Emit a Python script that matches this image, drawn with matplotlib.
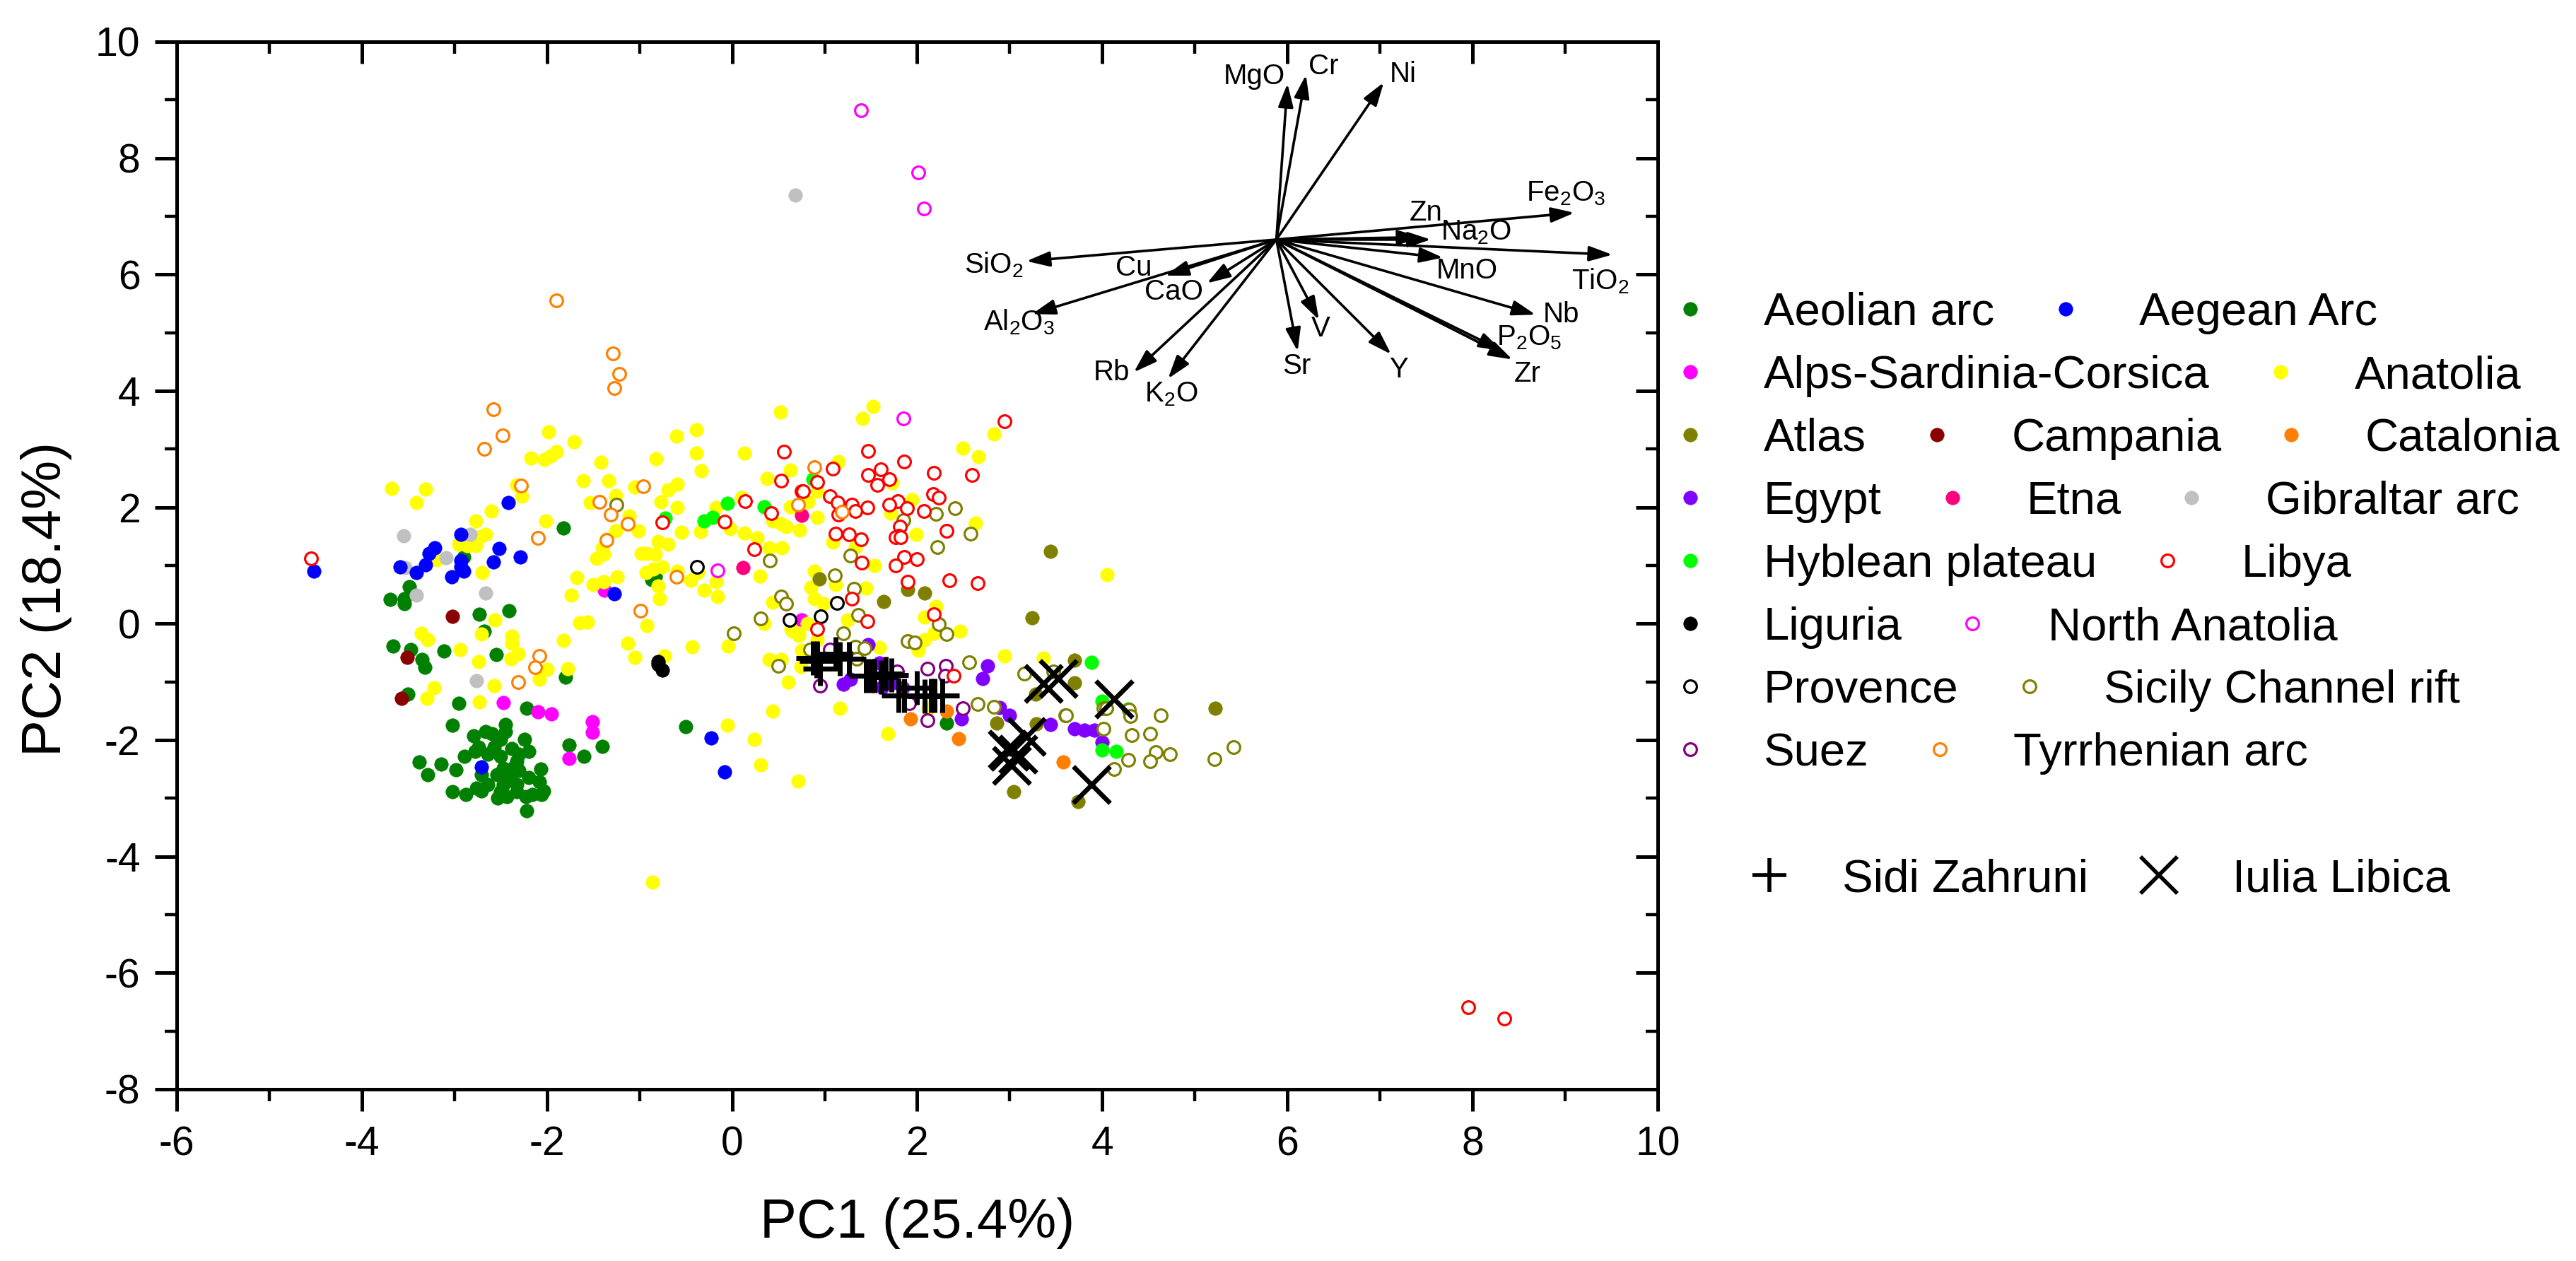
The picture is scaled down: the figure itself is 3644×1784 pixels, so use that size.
import matplotlib
matplotlib.use("Agg")
import matplotlib.pyplot as plt
from matplotlib.lines import Line2D
from matplotlib.ticker import MultipleLocator

plt.rcParams['font.family'] = ['Liberation Sans', 'DejaVu Sans']
plt.rcParams['axes.unicode_minus'] = False
plt.rcParams['mathtext.fontset'] = 'custom'
plt.rcParams['mathtext.rm'] = 'Liberation Sans'
plt.rcParams['mathtext.default'] = 'regular'

aeolian = [(-1.82,1.64),(-2.90,1.14),(-3.49,.64),(-3.69,.42),(-3.54,.43),(-3.54,.34),(-2.73,.16),(-2.41,.22),
 (-2.68,-.13),(-.83,.80),(-.87,.76),(-3.66,-.38),(-3.47,-.45),(-3.11,-.47),(-2.55,-.53),(-3.35,-.62),(-3.32,-.75),
 (-1.80,-.92),(-3.50,-1.21),(-2.95,-1.37),(-2.22,-1.45),(-3.02,-1.74),(-2.45,-1.73),(-2.45,-1.85),(-.50,-1.77),
 (-2.24,-1.99),(-1.76,-2.08),(-1.40,-2.11),(-1.60,-2.28),(-3.38,-2.38),(-3.14,-2.41),(-3.29,-2.60),(-2.98,-2.51),
 (-3.02,-2.89),(-2.88,-2.93),(-2.76,-2.83),(-2.71,-2.87),(-2.22,-3.22),(-2.53,-3.00),(-2.06,-2.93),(-2.04,-2.87),
 (-2.07,-2.50),(-2.08,-2.72),(-2.79,-1.93),(-2.66,-1.85),(-2.59,-1.89),(-2.50,-1.99),(-2.74,-2.12),(-2.57,-2.12),
 (-2.38,-2.14),(-2.30,-2.24),(-2.20,-2.20),(-2.89,-2.28),(-2.78,-2.20),(-2.64,-2.24),(-2.50,-2.28),(-2.33,-2.36),
 (-2.47,-2.48),(-2.37,-2.48),(-2.30,-2.52),(-2.71,-2.60),(-2.54,-2.60),(-2.40,-2.64),(-2.20,-2.64),(-2.64,-2.77),
 (-2.47,-2.77),(-2.33,-2.77),(-2.43,-2.97),(-2.23,-2.97),(-2.16,-2.93),(-2.33,-2.89),(-2.50,-2.89),(2.32,-1.71)]
alps = [(-1.38,.57),(-2.47,-1.36),(-2.10,-1.52),(-1.95,-1.55),(-1.51,-1.69),(-1.51,-1.87),(-1.76,-2.31),(.75,.07)]
anatolia = [(.526,3.64),(-1.98,3.29),(-1.71,3.12),(-2.17,2.85),(-2.03,2.82),(-1.96,2.88),(-1.90,2.95),(-1.42,2.77),
 (-.60,3.22),(-.39,3.33),(-.39,2.93),(-.82,2.83),(.13,2.93),(-.33,2.63),(.63,2.64),(.38,2.49),(-3.68,2.32),(-3.31,2.31),
 (-3.41,2.08),(-1.61,2.46),(-1.33,2.46),(-1.05,2.35),(-.59,2.40),(-.69,2.30),(-2.33,2.38),(-2.27,2.19),(-2.60,1.94),
 (-2.77,1.77),(-1.26,2.20),(-1.53,2.08),(-.77,2.09),(-.59,2.00),(-1.11,1.85),(.10,2.17),(-.17,1.99),(.67,2.01),
 (-2.01,1.77),(-1.26,1.59),(-1.01,1.60),(-.55,1.57),(-.34,1.58),(-.02,1.63),(.13,1.56),(.27,1.47),(.44,1.76),(.53,1.72),
 (.58,1.67),(.73,1.61),(-2.66,1.53),(-2.72,1.50),(-2.95,1.36),(-2.86,1.34),(-2.77,1.34),(-3.19,1.10),(-1.36,1.45),
 (-1.40,1.30),(-1.39,1.20),(-1.46,1.12),(-.80,1.41),(-.69,1.37),(-.98,1.21),(-.92,1.21),(-.83,1.20),(.40,1.30),(.54,1.30),
 (-2.70,.88),(-.37,.88),(-.93,.88),(-.85,.94),(-.75,.98),(-.59,.90),(-.45,.75),(.30,.82),(-.30,.58),(-.17,.72),(-.16,.47),
 (-.80,.65),(-.78,.43),(-1.24,.81),(-1.68,.79),(-1.39,.72),(-1.50,.67),(-1.74,.49),(.44,.37),(.35,.01),(.65,-.13),(.72,-.17),
 (-1.65,.02),(-1.56,.03),(-.92,-.03),(-2.56,.06),(-3.36,-.17),(-3.29,-.27),(-2.38,-.21),(-2.38,-.34),(-2.71,-.18),
 (-1.82,-.29),(-1.13,-.34),(-.43,-.40),(-.04,-.38),(-2.94,-.45),(-2.31,-.52),(-2.39,-.60),(-2.74,-.65),(-1.05,-.58),
 (-.73,-.56),(.40,-.61),(.53,-.62),(-2.00,-.79),(-1.78,-.77),(-2.08,-.96),(-2.57,-1.06),(.61,-1.0),(-3.22,-1.10),
 (-3.30,-1.28),(-2.73,-1.35),(.74,-.74),(.44,-1.50),(-.05,-1.74),(.24,-1.99),(.31,-2.42),(.71,-2.70),(-.86,-4.44),
 (1.52,3.73),(1.41,3.53),(2.49,3.02),(2.66,2.87),(2.83,3.26),(1.15,2.78),(1.73,2.42),(.92,2.27),(.82,2.09),(.63,2.01),
 (1.94,2.13),(1.71,1.90),(.92,1.82),(2.63,1.73),(1.99,1.53),(1.09,1.40),(1.33,1.32),(1.54,1.00),(.89,.90),(1.12,.67),
 (.85,.62),(1.45,.61),(4.05,.84),(.89,.43),(.99,.35),(2.20,.29),(2.08,.11),(1.25,.07),(.81,.01),(.64,-.09),(.72,-.20),
 (2.46,-.13),(2.18,-.17),(2.08,-.28),(2.01,-.46),(1.59,-.41),(.92,-.28),(.75,-.46),(2.94,-.56),(3.36,-.59),(1.16,-1.45),
 (1.68,-1.89),(2.12,-1.45)]
atlas = [(3.44,1.24),(.94,.77),(1.90,.59),(2.08,.53),(1.64,.38),(3.24,.10),(3.70,-.63),(3.70,-1.02),(2.86,-1.71),
 (3.28,-1.21),(3.29,-1.72),(3.04,-2.89),(3.74,-3.06),(5.22,-1.45)]
campania = [(-3.02,.12),(-3.51,-.58),(-3.57,-1.28)]
catalonia = [(1.93,-1.64),(2.32,-1.50),(2.45,-1.98),(3.58,-2.38)]
egypt = [(1.47,-.36),(1.59,-.68),(2.76,-.73),(2.71,-.94),(1.28,-.96),(1.20,-1.04),(1.62,-1.09),(1.74,-1.02),(1.84,-1.10),
 (2.48,-1.63),(2.89,-1.44),(3.0,-1.57),(3.44,-1.73),(3.70,-1.80),(3.81,-1.83),(3.91,-1.83),(4.0,-2.04)]
etna = [(.75,1.86),(.12,.96)]
gibraltar = [(-3.55,1.51),(-2.83,1.53),(-3.09,1.13),(-3.53,.96),(-3.41,.49),(-2.66,.53),(-2.76,-.98),(.68,7.36)]
hyblean = [(-.72,1.81),(-.30,1.77),(-.21,1.83),(-.05,2.07),(.35,2.01),(.87,2.48),(3.88,-.67),(4.0,-1.33),(4.28,-1.47),
 (4.0,-2.17),(4.15,-2.20)]
aegean = [(-2.42,2.08),(-2.93,1.53),(-2.52,1.29),(-3.21,1.30),(-3.27,1.21),(-2.29,1.14),(-2.58,1.06),(-2.93,1.08),
 (-3.31,1.01),(-3.59,.97),(-2.93,.98),(-3.41,.88),(-2.90,.90),(-3.03,.80),(-1.27,.51),(-4.52,.90),(-.23,-1.96),
 (-.08,-2.55),(-2.71,-2.46)]
liguria = [(-.80,-.65),(-.75,-.80),(-.80,-.70)]
libya = [(.56,2.95),(.53,2.46),(.75,2.28),(.14,2.11),(.42,1.90),(-.08,1.75),(-.75,1.74),(.24,1.28),(2.94,3.48),(1.47,2.97),
 (1.86,2.79),(1.09,2.67),(1.61,2.65),(2.18,2.59),(1.47,2.56),(2.59,2.55),(1.70,2.48),(.92,2.43),(1.57,2.38),(.77,2.28),
 (1.06,2.19),(2.17,2.23),(2.23,2.17),(1.79,2.11),(1.14,2.08),(1.29,2.05),(1.70,2.04),(1.46,1.99),(1.89,1.98),(1.33,1.93),
 (2.07,1.94),(1.15,1.87),(1.81,1.67),(2.32,1.60),(1.12,1.55),(1.26,1.53),(1.39,1.45),(1.80,1.51),(1.77,1.48),(1.82,1.49),
 (1.86,1.15),(2.0,1.11),(1.40,1.05),(1.77,1.00),(1.90,.72),(2.35,.75),(2.65,.70),(1.29,.43),(2.18,.16),(1.46,.04),
 (.92,-.09),(2.39,-.89),(-4.55,1.12),(7.95,-6.59),(8.34,-6.79)]
north_anatolia = [(-.16,.91),(1.85,3.53),(1.39,8.82),(2.01,7.75),(2.07,7.13)]
provence = [(-.38,.97),(.62,.07),(1.13,.36),(.96,.13)]
sicily = [(-1.25,2.05),(.41,1.08),(.53,.47),(.58,.34),(.31,.09),(.02,-.17),(.50,-.73),(2.41,1.98),(2.20,1.89),(1.85,1.78),
 (2.58,1.55),(2.22,1.32),(1.28,1.17),(1.11,.83),(1.32,.60),(1.36,.15),(2.23,-.01),(2.32,-.18),(1.20,-.17),(1.90,-.30),
 (1.97,-.32),(1.33,-.40),(1.43,-.42),(2.56,-.66),(3.16,-.86),(3.47,-.82),(.84,-.44),(1.35,-.60),(2.65,-1.38),(2.83,-1.43),
 (3.60,-1.58),(3.61,-1.58),(4.01,-1.45),(4.04,-1.45),(4.29,-1.48),(4.30,-1.59),(4.63,-1.58),(4.01,-1.81),(4.32,-1.91),
 (4.52,-1.89),(4.58,-2.21),(4.73,-2.24),(4.28,-2.34),(4.52,-2.36),(4.13,-2.50),(5.21,-2.33),(5.42,-2.12)]
suez = [(.95,-1.07),(1.06,-.44),(1.78,-.82),(2.11,-.77),(2.31,-.72),(2.30,-.90),(1.91,-1.37),(2.11,-1.66),(2.49,-1.45)]
tyrrhenian = [(-1.29,4.64),(-1.22,4.29),(-1.27,4.05),(-2.58,3.69),(-2.48,3.23),(-2.68,3.01),(-2.28,2.37),(-1.43,2.09),
 (-1.31,1.87),(-.96,2.36),(-1.13,1.72),(-2.10,1.47),(-1.36,1.44),(-.60,.80),(-.99,.22),(-2.08,-.55),(-2.13,-.75),
 (-2.31,-1.0),(.71,2.05),(.89,2.69),(1.19,1.92),(-1.90,5.55)]
sidi_zahruni = [(.87,-.59),(.92,-.59),(.95,-.77),(1.12,-.52),(1.16,-.60),(1.26,-.60),(.91,-.64),(1.45,-.89),(1.50,-.90),
 (1.66,-.86),(1.72,-.88),(1.54,-.90),(1.61,-.92),(1.80,-1.23),(1.86,-1.23),(2.0,-1.10),(2.15,-1.23),(2.19,-1.23),
 (2.27,-1.23),(2.08,-1.25)]
iulia_libica = [(4.13,-1.29),(3.88,-2.76),(3.36,-1.03),(3.52,-.94),(3.18,-1.94),(2.97,-2.16),(3.09,-2.24),(3.02,-2.44),
 (3.0,-2.20)]

loading_names = ['MgO','Cr','Ni',r'Fe$_2$O$_3$','Zn',r'Na$_2$O',r'TiO$_2$','MnO','Nb',r'P$_2$O$_5$','Zr','Y','V','Sr',
                 r'K$_2$O','Rb','CaO','Cu',r'Al$_2$O$_3$',r'SiO$_2$']
loading_tip_x = [6.00,6.20,7.04,9.10,7.44,7.55,9.51,7.68,8.68,8.32,8.43,7.12,6.34,6.11,4.71,4.34,5.13,4.68,3.24,3.18]
loading_tip_y = [9.28,9.43,9.30,7.06,6.64,6.60,6.34,6.29,5.31,4.69,4.54,4.63,5.22,4.68,4.21,4.32,5.85,5.98,5.32,6.23]
loading_lab_x = [5.64,6.39,7.25,9.01,7.50,8.04,9.38,7.94,8.96,8.61,8.59,7.20,6.36,6.10,4.74,4.10,4.77,4.34,3.10,2.83]
loading_lab_y = [9.41,9.57,9.44,7.39,7.06,6.72,5.89,6.07,5.31,4.92,4.29,4.37,5.07,4.42,3.94,4.32,5.70,6.11,5.18,6.17]
loading_origin = (5.88, 6.60)

# draw order: (series, colour, filled)
groups = [
    (aeolian, '#008000', True), (alps, '#FF00FF', True), (anatolia, '#FFFF00', True), (atlas, '#808000', True),
    (campania, '#8B0000', True), (catalonia, '#FF8000', True), (egypt, '#8000FF', True), (etna, '#FF0080', True),
    (gibraltar, '#C0C0C0', True), (hyblean, '#00FF00', True), (aegean, '#0000FF', True), (liguria, '#000000', True),
    (sicily, '#808000', False), (provence, '#000000', False), (suez, '#800080', False), (libya, '#FF0000', False),
    (north_anatolia, '#FF00FF', False), (tyrrhenian, '#FF8000', False),
]

W, H = 3644, 1784
fig = plt.figure(figsize=(W/100, H/100), dpi=100, facecolor='white')
L, R, T, B = 250, 2345, 59, 1541
ax = fig.add_axes([L/W, (H-B)/H, (R-L)/W, (B-T)/H])
ax.set_xlim(-6, 10)
ax.set_ylim(-8, 10)

for z, (pts, col, filled) in enumerate(groups):
    xs = [p[0] for p in pts]
    ys = [p[1] for p in pts]
    ax.plot(xs, ys, ls='none', marker='o', ms=14 if filled else 12.8,
            mfc=col if filled else 'white', mec=col, mew=0.5 if filled else 2.3, zorder=3+z*0.01, clip_on=True)

ax.plot([p[0] for p in sidi_zahruni], [p[1] for p in sidi_zahruni], ls='none', marker='+', ms=34.5, mew=5,
        color='black', zorder=5)
ax.plot([p[0] for p in iulia_libica], [p[1] for p in iulia_libica], ls='none', marker='x', ms=37, mew=4.8,
        color='black', zorder=5)

for tx, ty in zip(loading_tip_x, loading_tip_y):
    ax.annotate('', xy=(tx, ty), xytext=loading_origin, zorder=6,
                arrowprops=dict(arrowstyle='-|>,head_length=20,head_width=6.5', mutation_scale=1, lw=2.6,
                                color='black', shrinkA=0, shrinkB=0))
for name, lx, ly in zip(loading_names, loading_lab_x, loading_lab_y):
    ax.text(lx, ly, name, fontsize=29, ha='center', va='center', zorder=7)

# axes frame and ticks
for s in ax.spines.values():
    s.set_linewidth(3.6)
ax.xaxis.set_major_locator(MultipleLocator(2))
ax.xaxis.set_minor_locator(MultipleLocator(1))
ax.yaxis.set_major_locator(MultipleLocator(2))
ax.yaxis.set_minor_locator(MultipleLocator(1))
ax.tick_params(which='major', direction='out', length=22, width=3.6, labelsize=41, pad=15)
ax.tick_params(which='minor', direction='out', length=12, width=3.2)

top = ax.secondary_xaxis('top')
right = ax.secondary_yaxis('right')
for sec, axis in ((top, top.xaxis), (right, right.yaxis)):
    axis.set_major_locator(MultipleLocator(2))
    axis.set_minor_locator(MultipleLocator(1))
    sec.tick_params(which='major', direction='in', length=22, width=3.6, labeltop=False, labelright=False)
    sec.tick_params(which='minor', direction='in', length=12, width=3.2)
    for s in sec.spines.values():
        s.set_linewidth(3.6)

ax.set_xlabel('PC1 (25.4%)', fontsize=56, va='center')
ax.xaxis.set_label_coords(0.5, -0.128)
ax.set_ylabel('PC2 (18.4%)', fontsize=56, va='center')
ax.yaxis.set_label_coords(-0.088, 0.468)

# legend laid out in rows, as in the reference
legend_rows = [
    [('Aeolian arc', '#008000', True, 2391, 2495), ('Aegean Arc', '#0000FF', True, 2922, 3026)],
    [('Alps-Sardinia-Corsica', '#FF00FF', True, 2391, 2495), ('Anatolia', '#FFFF00', True, 3226, 3331)],
    [('Atlas', '#808000', True, 2391, 2495), ('Campania', '#8B0000', True, 2740, 2846), ('Catalonia', '#FF8000', True, 3241, 3346)],
    [('Egypt', '#8000FF', True, 2391, 2495), ('Etna', '#FF0080', True, 2762, 2867), ('Gibraltar arc', '#C0C0C0', True, 3100, 3205)],
    [('Hyblean plateau', '#00FF00', True, 2391, 2495), ('Libya', '#FF0000', False, 3066, 3171)],
    [('Liguria', '#000000', True, 2391, 2495), ('North Anatolia', '#FF00FF', False, 2790, 2897)],
    [('Provence', '#000000', False, 2391, 2495), ('Sicily Channel rift', '#808000', False, 2871, 2976)],
    [('Suez', '#800080', False, 2391, 2495), ('Tyrrhenian arc', '#FF8000', False, 2744, 2848)],
]
row_y0, row_dy = 437, 89
for i, row in enumerate(legend_rows):
    yy = row_y0 + i*row_dy
    for label, col, filled, mx, tx in row:
        fig.add_artist(Line2D([mx/W], [1-yy/H], transform=fig.transFigure, ls='none', marker='o',
                              ms=14 if filled else 12.8, mfc=col if filled else 'white', mec=col,
                              mew=0.5 if filled else 2.3))
        fig.text(tx/W, 1-(yy+23)/H, label, fontsize=47, ha='left', va='baseline')
yy = 1238
fig.add_artist(Line2D([2503/W], [1-yy/H], transform=fig.transFigure, ls='none', marker='+', ms=34.5, mew=4.0, color='black'))
fig.text(2606/W, 1-(yy+23)/H, 'Sidi Zahruni', fontsize=47, ha='left', va='baseline')
fig.add_artist(Line2D([3054/W], [1-yy/H], transform=fig.transFigure, ls='none', marker='x', ms=37, mew=4.0, color='black'))
fig.text(3158/W, 1-(yy+23)/H, 'Iulia Libica', fontsize=47, ha='left', va='baseline')

fig.savefig('out.png', dpi=100, facecolor='white')
